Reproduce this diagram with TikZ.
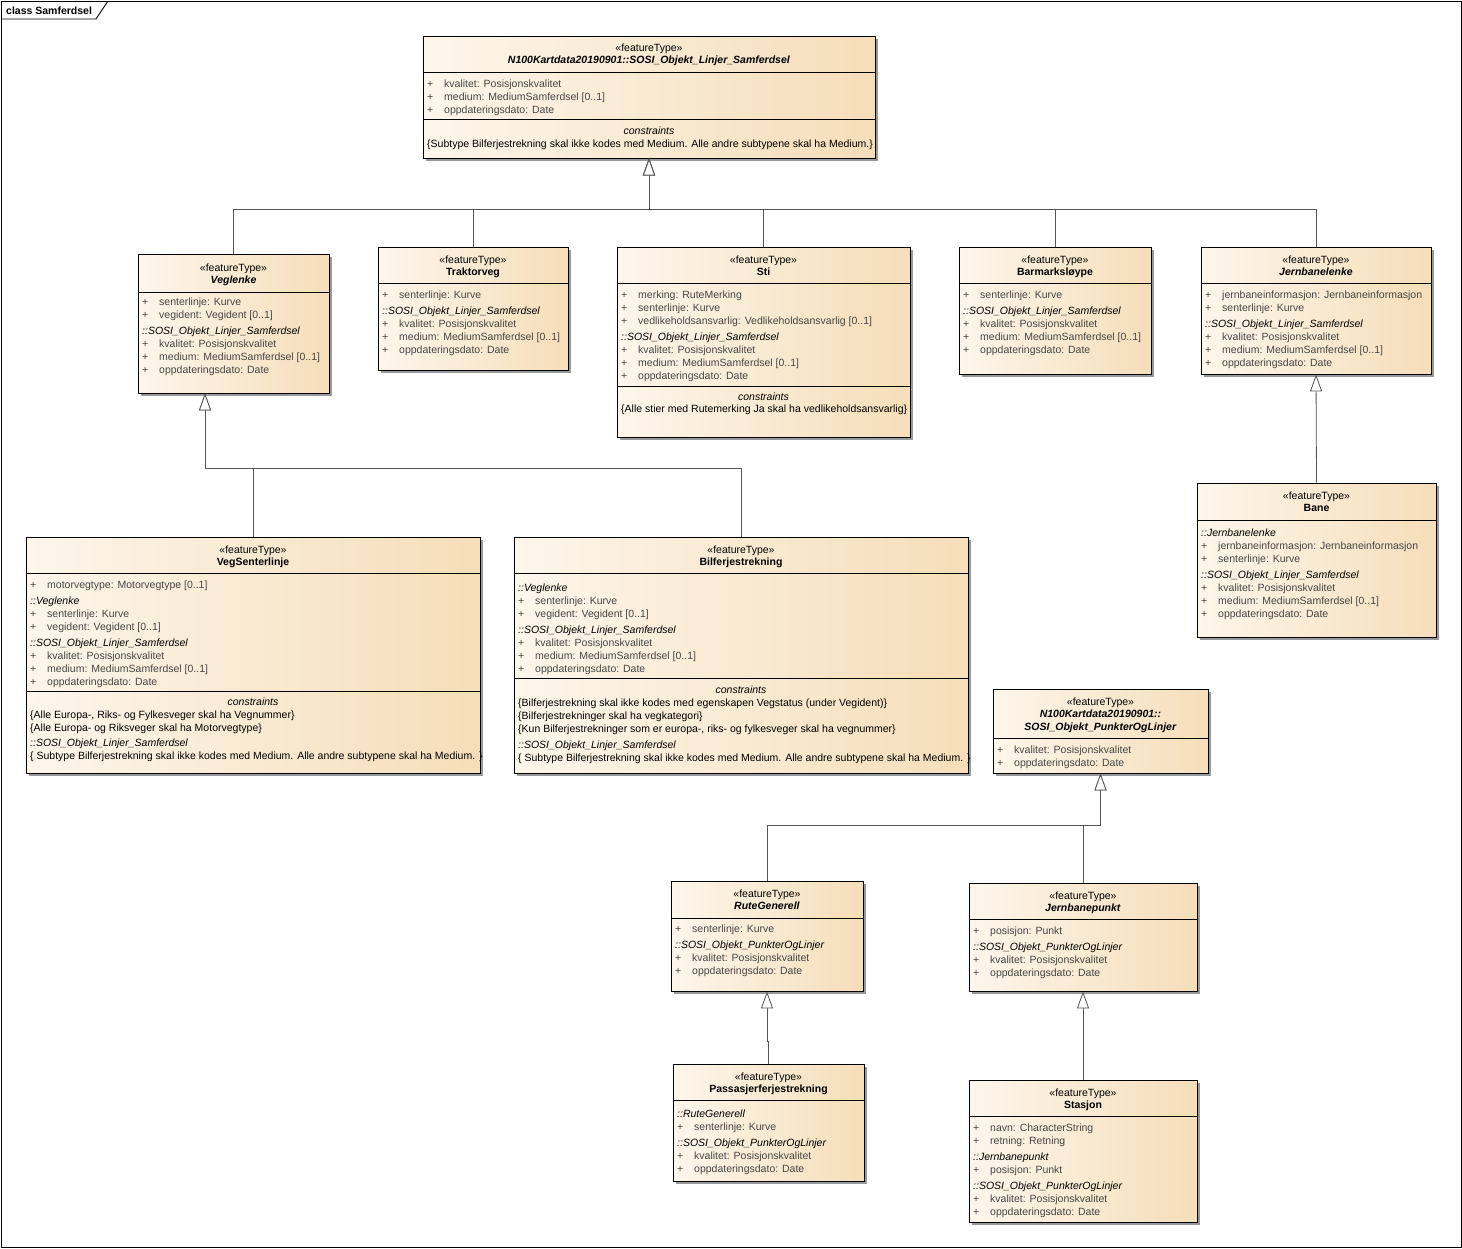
\documentclass[tikz,border=0pt]{standalone}
\usepackage{fontspec}
\setmainfont{Liberation Sans}
\usetikzlibrary{arrows.meta,fit,shadows}
\definecolor{boxleft}{RGB}{253,246,235}
\definecolor{boxright}{RGB}{245,222,185}
\definecolor{attrgray}{RGB}{70,70,70}
\definecolor{linkgray}{RGB}{85,85,85}
\newcommand{\pl}{\makebox[17pt][l]{+}}
\newcommand{\pk}[1]{\textcolor{black}{\textit{#1}}}
\newcommand{\lines}[1]{\begin{tabular}[t]{@{}l@{}}#1\end{tabular}}
\newcommand{\clines}[1]{\begin{tabular}[t]{@{}c@{}}#1\end{tabular}}

\begin{document}
\begin{tikzpicture}[x=1pt, y=-1pt,
    every node/.style={font=\fontsize{10.5}{13}\selectfont},
    cls/.style={draw=black, line width=0.9pt, inner sep=0pt,
                left color=boxleft, right color=boxright,
                drop shadow={shadow xshift=3pt, shadow yshift=-3pt, fill=black!40, opacity=1}},
    sep/.style={draw=black, line width=0.9pt},
    hdr/.style={anchor=base, inner sep=0pt, font=\fontsize{10.5}{12}\selectfont},
    comp/.style={anchor=base west, inner sep=0pt, text=attrgray},
    cons/.style={anchor=base, inner sep=0pt, font=\fontsize{10.5}{13}\selectfont\itshape},
    gen/.style={draw=linkgray, line width=0.8pt,
                -{Triangle[open, length=17pt, width=12pt, fill=white]}}
  ]
  \fill[white] (0,0) rectangle (1462,1248);
  \useasboundingbox (0,0) rectangle (1462,1248);
  % frame
  \draw[line width=0.9pt] (1,1) rectangle (1461,1247);
  \draw[line width=0.9pt] (1,19) -- (96,19) -- (108,1);
  \node[anchor=base west, inner sep=0pt] (framelabel) at (6,14) {\textbf{class Samferdsel}};

  % top supertype
  \node[cls, fit={(423,36) (875,158)}] (linjer) {};
  \draw[sep] (linjer.west |- 0,72) -- (linjer.east |- 0,72);
  \draw[sep] (linjer.west |- 0,119) -- (linjer.east |- 0,119);
  \node[hdr] (linjer-h) at (linjer.north |- 0,51) {\clines{«featureType»\\\textbf{\textit{N100Kartdata20190901::SOSI\_Objekt\_Linjer\_Samferdsel}}}};
  \node[comp] (linjer-a) at (427,87) {\lines{\pl kvalitet: Posisjonskvalitet\\
    \pl medium: MediumSamferdsel [0..1]\\
    \pl oppdateringsdato: Date}};
  \node[cons] (linjer-c) at (linjer.north |- 0,134) {constraints};
  \node[comp, text=black] (linjer-k) at (427,147) {\{Subtype Bilferjestrekning skal ikke kodes med Medium. Alle andre subtypene skal ha Medium.\}};

  % Veglenke
  \node[cls, fit={(138,254) (329,393)}] (veglenke) {};
  \draw[sep] (veglenke.west |- 0,292) -- (veglenke.east |- 0,292);
  \node[hdr] (veglenke-h) at (veglenke.north |- 0,271) {\clines{«featureType»\\\textbf{\textit{Veglenke}}}};
  \node[comp] (veglenke-a) at (142,305) {\lines{\pl senterlinje: Kurve\\
    \pl vegident: Vegident [0..1]\\[3pt]
    \pk{::SOSI\_Objekt\_Linjer\_Samferdsel}\\
    \pl kvalitet: Posisjonskvalitet\\
    \pl medium: MediumSamferdsel [0..1]\\
    \pl oppdateringsdato: Date}};

  % Traktorveg
  \node[cls, fit={(378,247) (568,370)}] (traktorveg) {};
  \draw[sep] (traktorveg.west |- 0,283) -- (traktorveg.east |- 0,283);
  \node[hdr] (traktorveg-h) at (traktorveg.north |- 0,263) {\clines{«featureType»\\\textbf{Traktorveg}}};
  \node[comp] (traktorveg-a) at (382,298) {\lines{\pl senterlinje: Kurve\\[3pt]
    \pk{::SOSI\_Objekt\_Linjer\_Samferdsel}\\
    \pl kvalitet: Posisjonskvalitet\\
    \pl medium: MediumSamferdsel [0..1]\\
    \pl oppdateringsdato: Date}};

  % Sti
  \node[cls, fit={(617,247) (910,437)}] (sti) {};
  \draw[sep] (sti.west |- 0,283) -- (sti.east |- 0,283);
  \draw[sep] (sti.west |- 0,386) -- (sti.east |- 0,386);
  \node[hdr] (sti-h) at (sti.north |- 0,263) {\clines{«featureType»\\\textbf{Sti}}};
  \node[comp] (sti-a) at (621,298) {\lines{\pl merking: RuteMerking\\
    \pl senterlinje: Kurve\\
    \pl vedlikeholdsansvarlig: Vedlikeholdsansvarlig [0..1]\\[3pt]
    \pk{::SOSI\_Objekt\_Linjer\_Samferdsel}\\
    \pl kvalitet: Posisjonskvalitet\\
    \pl medium: MediumSamferdsel [0..1]\\
    \pl oppdateringsdato: Date}};
  \node[cons] (sti-c) at (sti.north |- 0,400) {constraints};
  \node[comp, text=black] (sti-k) at (621,412) {\{Alle stier med Rutemerking Ja skal ha vedlikeholdsansvarlig\}};

  % Barmarksløype
  \node[cls, fit={(959,247) (1151,374)}] (barmark) {};
  \draw[sep] (barmark.west |- 0,283) -- (barmark.east |- 0,283);
  \node[hdr] (barmark-h) at (barmark.north |- 0,263) {\clines{«featureType»\\\textbf{Barmarksløype}}};
  \node[comp] (barmark-a) at (963,298) {\lines{\pl senterlinje: Kurve\\[3pt]
    \pk{::SOSI\_Objekt\_Linjer\_Samferdsel}\\
    \pl kvalitet: Posisjonskvalitet\\
    \pl medium: MediumSamferdsel [0..1]\\
    \pl oppdateringsdato: Date}};

  % Jernbanelenke
  \node[cls, fit={(1201,247) (1431,374)}] (jbl) {};
  \draw[sep] (jbl.west |- 0,283) -- (jbl.east |- 0,283);
  \node[hdr] (jbl-h) at (jbl.north |- 0,263) {\clines{«featureType»\\\textbf{\textit{Jernbanelenke}}}};
  \node[comp] (jbl-a) at (1205,298) {\lines{\pl jernbaneinformasjon: Jernbaneinformasjon\\
    \pl senterlinje: Kurve\\[3pt]
    \pk{::SOSI\_Objekt\_Linjer\_Samferdsel}\\
    \pl kvalitet: Posisjonskvalitet\\
    \pl medium: MediumSamferdsel [0..1]\\
    \pl oppdateringsdato: Date}};

  % Bane
  \node[cls, fit={(1197,483) (1436,637)}] (bane) {};
  \draw[sep] (bane.west |- 0,520) -- (bane.east |- 0,520);
  \node[hdr] (bane-h) at (bane.north |- 0,499) {\clines{«featureType»\\\textbf{Bane}}};
  \node[comp] (bane-a) at (1201,536) {\lines{\pk{::Jernbanelenke}\\
    \pl jernbaneinformasjon: Jernbaneinformasjon\\
    \pl senterlinje: Kurve\\[3pt]
    \pk{::SOSI\_Objekt\_Linjer\_Samferdsel}\\
    \pl kvalitet: Posisjonskvalitet\\
    \pl medium: MediumSamferdsel [0..1]\\
    \pl oppdateringsdato: Date}};

  % VegSenterlinje
  \node[cls, fit={(26,537) (480,773)}] (vegsenter) {};
  \draw[sep] (vegsenter.west |- 0,573) -- (vegsenter.east |- 0,573);
  \draw[sep] (vegsenter.west |- 0,691) -- (vegsenter.east |- 0,691);
  \node[hdr] (vegsenter-h) at (vegsenter.north |- 0,553) {\clines{«featureType»\\\textbf{VegSenterlinje}}};
  \node[comp] (vegsenter-a) at (30,588) {\lines{\pl motorvegtype: Motorvegtype [0..1]\\[3pt]
    \pk{::Veglenke}\\
    \pl senterlinje: Kurve\\
    \pl vegident: Vegident [0..1]\\[3pt]
    \pk{::SOSI\_Objekt\_Linjer\_Samferdsel}\\
    \pl kvalitet: Posisjonskvalitet\\
    \pl medium: MediumSamferdsel [0..1]\\
    \pl oppdateringsdato: Date}};
  \node[cons] (vegsenter-c) at (vegsenter.north |- 0,705) {constraints};
  \node[comp, text=black] (vegsenter-k) at (30,718) {\lines{\{Alle Europa-, Riks- og Fylkesveger skal ha Vegnummer\}\\
    \{Alle Europa- og Riksveger skal ha Motorvegtype\}\\[2pt]
    \pk{::SOSI\_Objekt\_Linjer\_Samferdsel}\\
    \{ Subtype Bilferjestrekning skal ikke kodes med Medium. Alle andre subtypene skal ha Medium. \}}};

  % Bilferjestrekning
  \node[cls, fit={(514,537) (968,773)}] (bilferje) {};
  \draw[sep] (bilferje.west |- 0,573) -- (bilferje.east |- 0,573);
  \draw[sep] (bilferje.west |- 0,678) -- (bilferje.east |- 0,678);
  \node[hdr] (bilferje-h) at (bilferje.north |- 0,553) {\clines{«featureType»\\\textbf{Bilferjestrekning}}};
  \node[comp] (bilferje-a) at (518,591) {\lines{\pk{::Veglenke}\\
    \pl senterlinje: Kurve\\
    \pl vegident: Vegident [0..1]\\[3pt]
    \pk{::SOSI\_Objekt\_Linjer\_Samferdsel}\\
    \pl kvalitet: Posisjonskvalitet\\
    \pl medium: MediumSamferdsel [0..1]\\
    \pl oppdateringsdato: Date}};
  \node[cons] (bilferje-c) at (bilferje.north |- 0,693) {constraints};
  \node[comp, text=black] (bilferje-k) at (518,706) {\lines{\{Bilferjestrekning skal ikke kodes med egenskapen Vegstatus (under Vegident)\}\\
    \{Bilferjestrekninger skal ha vegkategori\}\\
    \{Kun Bilferjestrekninger som er europa-, riks- og fylkesveger skal ha vegnummer\}\\[3pt]
    \pk{::SOSI\_Objekt\_Linjer\_Samferdsel}\\
    \{ Subtype Bilferjestrekning skal ikke kodes med Medium. Alle andre subtypene skal ha Medium. \}}};

  % PunkterOgLinjer supertype
  \node[cls, fit={(993,689) (1208,773)}] (punkter) {};
  \draw[sep] (punkter.west |- 0,738) -- (punkter.east |- 0,738);
  \node[hdr, font=\fontsize{10.5}{12.5}\selectfont] (punkter-h) at (punkter.north |- 0,705) {\clines{«featureType»\\\textbf{\textit{N100Kartdata20190901::}}\\\textbf{\textit{SOSI\_Objekt\_PunkterOgLinjer}}}};
  \node[comp] (punkter-a) at (997,753) {\lines{\pl kvalitet: Posisjonskvalitet\\
    \pl oppdateringsdato: Date}};

  % RuteGenerell
  \node[cls, fit={(671,881) (863,991)}] (rute) {};
  \draw[sep] (rute.west |- 0,918) -- (rute.east |- 0,918);
  \node[hdr] (rute-h) at (rute.north |- 0,897) {\clines{«featureType»\\\textbf{\textit{RuteGenerell}}}};
  \node[comp] (rute-a) at (675,932) {\lines{\pl senterlinje: Kurve\\[3pt]
    \pk{::SOSI\_Objekt\_PunkterOgLinjer}\\
    \pl kvalitet: Posisjonskvalitet\\
    \pl oppdateringsdato: Date}};

  % Jernbanepunkt
  \node[cls, fit={(969,883) (1197,991)}] (jbpunkt) {};
  \draw[sep] (jbpunkt.west |- 0,919) -- (jbpunkt.east |- 0,919);
  \node[hdr] (jbpunkt-h) at (jbpunkt.north |- 0,899) {\clines{«featureType»\\\textbf{\textit{Jernbanepunkt}}}};
  \node[comp] (jbpunkt-a) at (973,934) {\lines{\pl posisjon: Punkt\\[3pt]
    \pk{::SOSI\_Objekt\_PunkterOgLinjer}\\
    \pl kvalitet: Posisjonskvalitet\\
    \pl oppdateringsdato: Date}};

  % Passasjerferjestrekning
  \node[cls, fit={(673,1064) (864,1181)}] (passasjer) {};
  \draw[sep] (passasjer.west |- 0,1100) -- (passasjer.east |- 0,1100);
  \node[hdr] (passasjer-h) at (passasjer.north |- 0,1080) {\clines{«featureType»\\\textbf{Passasjerferjestrekning}}};
  \node[comp] (passasjer-a) at (677,1117) {\lines{\pk{::RuteGenerell}\\
    \pl senterlinje: Kurve\\[3pt]
    \pk{::SOSI\_Objekt\_PunkterOgLinjer}\\
    \pl kvalitet: Posisjonskvalitet\\
    \pl oppdateringsdato: Date}};

  % Stasjon
  \node[cls, fit={(969,1080) (1197,1222)}] (stasjon) {};
  \draw[sep] (stasjon.west |- 0,1116) -- (stasjon.east |- 0,1116);
  \node[hdr] (stasjon-h) at (stasjon.north |- 0,1096) {\clines{«featureType»\\\textbf{Stasjon}}};
  \node[comp] (stasjon-a) at (973,1131) {\lines{\pl navn: CharacterString\\
    \pl retning: Retning\\[3pt]
    \pk{::Jernbanepunkt}\\
    \pl posisjon: Punkt\\[3pt]
    \pk{::SOSI\_Objekt\_PunkterOgLinjer}\\
    \pl kvalitet: Posisjonskvalitet\\
    \pl oppdateringsdato: Date}};

  % generalisations
  \coordinate (bus1) at (linjer.south |- 0,209);
  \coordinate (vegtip) at ([xshift=-28.5pt]veglenke.south);
  \coordinate (bus2) at (vegtip |- 0,468);
  \coordinate (bus3) at (punkter.south |- 0,825);
  \foreach \sub in {veglenke,traktorveg,sti,barmark,jbl}
    \draw[gen] (\sub.north) |- (bus1) -- (linjer.south);
  \foreach \sub in {vegsenter,bilferje}
    \draw[gen] (\sub.north) |- (bus2) -- (vegtip);
  \draw[gen] (bane.north) -- (jbl.south);
  \foreach \sub in {rute,jbpunkt}
    \draw[gen] (\sub.north) |- (bus3) -- (punkter.south);
  \draw[gen] (passasjer.north) -- ++(0,-22) -| (rute.south);
  \draw[gen] (stasjon.north) -- (jbpunkt.south);
\end{tikzpicture}
\end{document}
